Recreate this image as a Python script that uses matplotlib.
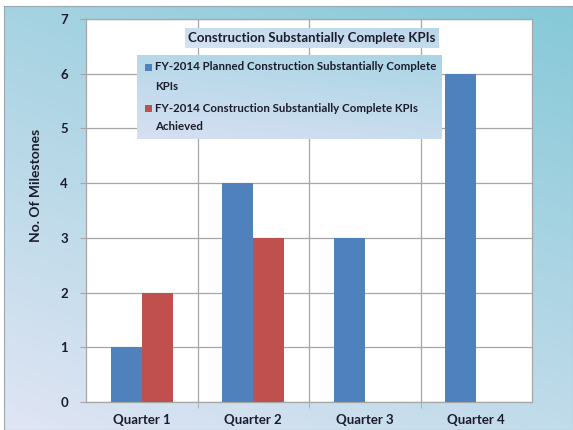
import numpy as np
import matplotlib
matplotlib.use("Agg")
import matplotlib.pyplot as plt
from matplotlib.patches import Rectangle
from matplotlib.colors import to_rgb

quarters = ["Quarter 1", "Quarter 2", "Quarter 3", "Quarter 4"]
planned = [1, 4, 3, 6]
achieved = [2, 3, 0, 0]
series_labels = [
    "FY-2014 Planned Construction Substantially Complete\nKPIs",
    "FY-2014 Construction Substantially Complete KPIs\nAchieved",
]
title = "Construction Substantially Complete KPIs"
ylabel = "No. Of Milestones"

plt.rcParams["font.family"] = ["Lato", "DejaVu Sans"]
TXT = "#1c1c2c"
BLUE = "#4f81bd"
RED = "#c0504d"
GRID = "#a6a6a6"

W, H = 573, 430
fig = plt.figure(figsize=(W / 100, H / 100), dpi=100)
fig.patch.set_facecolor("white")


def px_box(x0, y0, x1, y1):
    return [x0 / W, 1 - y1 / H, (x1 - x0) / W, (y1 - y0) / H]


def gradient(c_low, c_high, wx, wy, n=200):
    xs = np.linspace(0, 1, n)
    ys = np.linspace(1, 0, n)
    X, Y = np.meshgrid(xs, ys)
    t = np.clip(wx * X + wy * Y, 0, 1)[..., None]
    a = np.array(to_rgb(c_low))
    b = np.array(to_rgb(c_high))
    return a * (1 - t) + b * t


# chart-area background with diagonal gradient
bg = fig.add_axes(px_box(4, 6, 573, 430), zorder=-2)
bg.imshow(gradient("#e0e5f4", "#86c9d8", 0.35, 0.65), aspect="auto",
          extent=[0, 1, 0, 1], interpolation="bilinear")
bg.set_xlim(0, 1)
bg.set_ylim(0, 1)
bg.set_xticks([])
bg.set_yticks([])
for s in bg.spines.values():
    s.set_color("#9aa6b0")
    s.set_linewidth(0.8)

ax = fig.add_axes(px_box(86, 19, 532, 402), zorder=1)
ax.set_facecolor("white")
x = np.arange(len(quarters))
bw = 0.28
ax.bar(x - bw / 2, planned, bw, color=BLUE, zorder=3)
ax.bar(x + bw / 2, achieved, bw, color=RED, zorder=3)

ax.set_xlim(-0.5, len(quarters) - 0.5)
ax.set_ylim(0, 7)
ax.set_yticks(range(0, 8))
ax.set_xticks(x)
ax.set_xticklabels(quarters)
ax.set_xticks(np.arange(0.5, len(quarters) - 0.5), minor=True)
ax.grid(axis="y", color=GRID, linewidth=0.9, zorder=0)
ax.grid(axis="x", which="minor", color=GRID, linewidth=0.9, zorder=0)
ax.tick_params(axis="x", which="major", length=0, pad=9)
ax.tick_params(axis="x", which="minor", length=4, color=GRID, direction="out")
ax.tick_params(axis="y", length=4, color=GRID, pad=9)
for lab in ax.get_xticklabels() + ax.get_yticklabels():
    lab.set_fontweight("bold")
    lab.set_fontsize(9.5)
    lab.set_color(TXT)
for s in ax.spines.values():
    s.set_color(GRID)
    s.set_linewidth(0.9)

fig.text(36 / W, 1 - 185 / H, ylabel, rotation=90, ha="center", va="center",
         fontsize=10, fontweight="bold", color=TXT)

# title box
tb = fig.add_axes(px_box(185, 28, 439, 48), zorder=2)
tb.imshow(gradient("#d6e3f3", "#b8d6ea", 0.6, 0.4), aspect="auto",
          extent=[0, 1, 0, 1])
tb.axis("off")
fig.text((185 + 439) / 2 / W, 1 - 38 / H, title, ha="center", va="center",
         fontsize=9.5, fontweight="bold", color=TXT, zorder=6)

# legend box with colour keys and wrapped entry labels
lb = fig.add_axes(px_box(137, 55, 442, 139), zorder=2)
lb.imshow(gradient("#d6e0f2", "#a9d5e5", 0.3, 0.7), aspect="auto",
          extent=[0, 1, 0, 1])
lb.set_xlim(0, 1)
lb.set_ylim(0, 1)
lb.axis("off")
entry_tops = [67, 108]
for label, color, y0 in zip(series_labels, (BLUE, RED), entry_tops):
    fig.patches.append(Rectangle(((145) / W, 1 - (y0 + 3.5) / H), 7 / W, 7 / H,
                                 transform=fig.transFigure, facecolor=color,
                                 edgecolor="none", zorder=6))
    first, second = label.split("\n")
    fig.text(155 / W, 1 - y0 / H, first, ha="left", va="center",
             fontsize=8.3, fontweight="bold", color=TXT, zorder=6)
    fig.text(155 / W, 1 - (y0 + 19) / H, second, ha="left", va="center",
             fontsize=8.3, fontweight="bold", color=TXT, zorder=6)

fig.savefig("out.png", dpi=100)
